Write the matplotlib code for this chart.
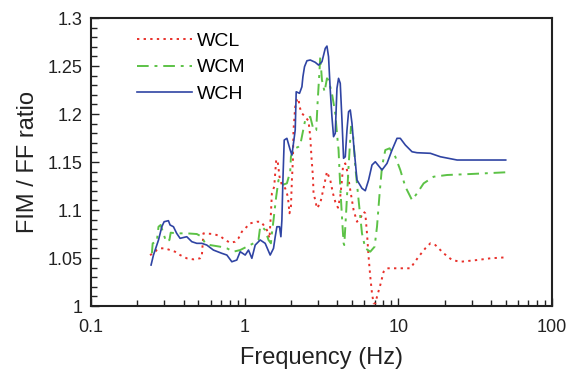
import matplotlib
matplotlib.use('Agg')
from matplotlib import pyplot as plt
from matplotlib.ticker import MultipleLocator, LogLocator, NullFormatter

plt.rcParams['font.family'] = ['Liberation Sans', 'DejaVu Sans']

# WCL (red, dotted)
wcl_freq = [0.242, 0.255, 0.268, 0.282, 0.303, 0.327, 0.352, 0.380, 0.420, 0.464,
            0.513, 0.526, 0.539, 0.626, 0.692, 0.746, 0.805, 0.867, 0.911, 0.959,
            1.008, 1.086, 1.201, 1.275, 1.326, 1.395, 1.451, 1.482, 1.504, 1.557,
            1.604, 1.636, 1.686, 1.747, 1.836, 1.911, 1.958, 2.000, 2.030, 2.061,
            2.079, 2.133, 2.188, 2.241, 2.275, 2.358, 2.478, 2.604, 2.672, 2.72,
            2.782, 2.807, 2.879, 2.954, 3.104, 3.261, 3.432, 3.606, 3.755, 3.887,
            4.048, 4.189, 4.298, 4.363, 4.516, 4.633, 4.868, 5.115, 5.383, 5.655,
            5.942, 6.095, 6.253, 6.405, 6.570, 6.740, 6.904, 7.083, 7.266, 7.634,
            8.021, 8.441, 10.30, 11.97, 13.56, 14.99, 16.16, 17.42, 19.73, 22.38,
            25.35, 32.56, 39.75, 50.0]
wcl_ratio = [1.0531, 1.0549, 1.0583, 1.0601, 1.0601, 1.0583, 1.0566, 1.0531, 1.0497, 1.0486,
             1.0497, 1.0514, 1.0757, 1.0750, 1.0729, 1.0688, 1.0659, 1.0670, 1.0705, 1.0774,
             1.0809, 1.0861, 1.0878, 1.0878, 1.0844, 1.0792, 1.0705, 1.0966, 1.1174, 1.1243,
             1.1521, 1.1521, 1.1347, 1.1260, 1.1226, 1.1139, 1.0966, 1.1034, 1.1313, 1.1521,
             1.1833, 1.2076, 1.2146, 1.2164, 1.2076, 1.2007, 1.1972, 1.1927, 1.1764, 1.1555,
             1.1347, 1.1174, 1.1104, 1.1018, 1.1070, 1.1226, 1.1399, 1.1313, 1.1174, 1.1086,
             1.1024, 1.1139, 1.1313, 1.1451, 1.1486, 1.1417, 1.1208, 1.1000, 1.0878, 1.0914,
             1.0982, 1.0966, 1.0757, 1.0514, 1.0305, 1.0132, 1.0028, 1.0028, 1.0097, 1.0219,
             1.0357, 1.0393, 1.0393, 1.0393, 1.0514, 1.0601, 1.0653, 1.0635, 1.0549, 1.0479,
             1.0461, 1.0479, 1.0497, 1.0507]

# WCM (green, dash-dot)
wcm_freq = [0.249, 0.252, 0.268, 0.275, 0.284, 0.296, 0.308, 0.324, 0.330, 0.361,
            0.420, 0.488, 0.526, 0.553, 0.596, 0.692, 0.766, 0.845, 0.935, 1.033,
            1.141, 1.230, 1.262, 1.294, 1.360, 1.429, 1.482, 1.504, 1.541, 1.604,
            1.661, 1.747, 1.883, 1.979, 2.000, 2.079, 2.133, 2.241, 2.299, 2.478,
            2.672, 2.807, 2.923, 2.981, 3.071, 3.104, 3.184, 3.311, 3.432, 3.515,
            3.698, 3.887, 3.987, 4.084, 4.189, 4.298, 4.402, 4.449, 4.584, 4.745,
            4.920, 5.070, 5.248, 5.514, 5.801, 6.095, 6.570, 7.009, 7.266, 7.555,
            7.831, 8.228, 8.776, 9.561, 10.30, 11.11, 12.28, 13.24, 14.62, 16.98,
            20.77, 29.44, 50.0]
wcm_ratio = [1.0549, 1.0653, 1.0670, 1.0826, 1.0844, 1.0757, 1.0670, 1.0688, 1.0764, 1.0757,
             1.0757, 1.0750, 1.0722, 1.0653, 1.0635, 1.0618, 1.0601, 1.0566, 1.0583, 1.0618,
             1.0653, 1.0688, 1.0826, 1.0826, 1.0792, 1.0688, 1.0653, 1.0757, 1.0896, 1.1139,
             1.1313, 1.1260, 1.1278, 1.1399, 1.1555, 1.1643, 1.1643, 1.1659, 1.1677, 1.1938,
             1.1972, 1.1833, 1.1833, 1.2111, 1.2458, 1.2597, 1.2354, 1.2232, 1.2372, 1.2354,
             1.2216, 1.2007, 1.1799, 1.1625, 1.1243, 1.0930, 1.0656, 1.0635, 1.1000, 1.1451,
             1.1868, 1.1799, 1.1451, 1.1104, 1.0757, 1.0601, 1.0566, 1.0618, 1.0826, 1.1174,
             1.1451, 1.1625, 1.1643, 1.1555, 1.1417, 1.1243, 1.1104, 1.1174, 1.1278, 1.1347,
             1.1365, 1.1375, 1.1393]

# WCH (blue, solid)
wch_freq = [0.246, 0.255, 0.275, 0.289, 0.299, 0.319, 0.327, 0.344, 0.361, 0.380,
            0.420, 0.453, 0.488, 0.526, 0.567, 0.626, 0.710, 0.766, 0.825, 0.889,
            0.935, 1.008, 1.059, 1.114, 1.171, 1.262, 1.360, 1.466, 1.541, 1.581,
            1.621, 1.686, 1.721, 1.747, 1.774, 1.809, 1.883, 1.979, 2.030, 2.079,
            2.133, 2.165, 2.275, 2.358, 2.394, 2.452, 2.542, 2.672, 2.879, 3.026,
            3.184, 3.346, 3.432, 3.515, 3.606, 3.698, 3.789, 3.887, 3.987, 4.084,
            4.189, 4.298, 4.402, 4.516, 4.633, 4.745, 4.868, 4.994, 5.115, 5.383,
            5.801, 6.095, 6.405, 6.740, 7.083, 7.831, 8.441, 9.10, 9.806, 10.30,
            11.11, 12.28, 13.24, 16.16, 18.78, 24.13, 50.0]
wch_ratio = [1.0427, 1.0531, 1.0688, 1.0826, 1.0878, 1.0889, 1.0844, 1.0826, 1.0757, 1.0705,
             1.0722, 1.0670, 1.0653, 1.0653, 1.0635, 1.0583, 1.0549, 1.0531, 1.0461, 1.0479,
             1.0566, 1.0531, 1.0583, 1.0497, 1.0635, 1.0688, 1.0653, 1.0531, 1.0601, 1.0722,
             1.0826, 1.0826, 1.0722, 1.0896, 1.1313, 1.1729, 1.1747, 1.1625, 1.1573, 1.1698,
             1.1833, 1.2232, 1.2216, 1.2284, 1.2389, 1.2493, 1.2555, 1.2563, 1.2539, 1.2510,
             1.2545, 1.2684, 1.2708, 1.2597, 1.2250, 1.1972, 1.1764, 1.1799, 1.2268, 1.2372,
             1.2320, 1.1938, 1.1539, 1.1555, 1.1833, 1.2024, 1.2042, 1.1903, 1.1695, 1.1313,
             1.1226, 1.1201, 1.1313, 1.1469, 1.1503, 1.1417, 1.1486, 1.1625, 1.1747, 1.1747,
             1.1677, 1.1607, 1.1597, 1.1591, 1.1555, 1.1521, 1.1521]

fig = plt.figure(figsize=(5.67, 3.73), dpi=100)
ax = fig.add_axes([0.1605, 0.1796, 0.813, 0.772])

ax.plot(wcl_freq, wcl_ratio, color='#e8302a', linestyle=(0, (1.2, 2.2)), linewidth=1.4, label='WCL')
ax.plot(wcm_freq, wcm_ratio, color='#5cc246', linestyle=(0, (6, 3, 1.5, 3)), linewidth=1.4, label='WCM')
ax.plot(wch_freq, wch_ratio, color='#2f44a3', linestyle='-', linewidth=1.2, label='WCH')

ax.set_xscale('log')
ax.set_xlim(0.1, 100)
ax.set_ylim(1.0, 1.3)
ax.set_xticks([0.1, 1, 10, 100])
ax.set_xticklabels(['0.1', '1', '10', '100'])
ax.xaxis.set_minor_locator(LogLocator(base=10, subs=range(2, 10)))
ax.xaxis.set_minor_formatter(NullFormatter())
ax.set_yticks([1.0, 1.05, 1.1, 1.15, 1.2, 1.25, 1.3])
ax.set_yticklabels(['1', '1.05', '1.1', '1.15', '1.2', '1.25', '1.3'])
ax.yaxis.set_minor_locator(MultipleLocator(0.01))

ax.tick_params(which='both', direction='in', top=False, right=False, labelsize=13, colors='#222222')
ax.tick_params(axis='y', which='major', length=6, width=1, pad=6)
ax.tick_params(axis='y', which='minor', length=4, width=1)
ax.tick_params(axis='x', which='major', length=6, width=1, pad=9)
ax.tick_params(axis='x', which='minor', length=4, width=1)
for sp in ax.spines.values():
    sp.set_linewidth(1.5)
    sp.set_color('#222222')

ax.set_xlabel('Frequency (Hz)', fontsize=17, labelpad=8, color='#222222')
ax.set_ylabel('FIM / FF ratio', fontsize=17, labelpad=6, color='#222222')

ax.legend(loc='upper left', bbox_to_anchor=(0.1, 0.95), frameon=False, fontsize=14,
          handlelength=2.8, handletextpad=0.3, labelspacing=0.45, borderpad=0, borderaxespad=0)

plt.savefig('out.png', dpi=100)
